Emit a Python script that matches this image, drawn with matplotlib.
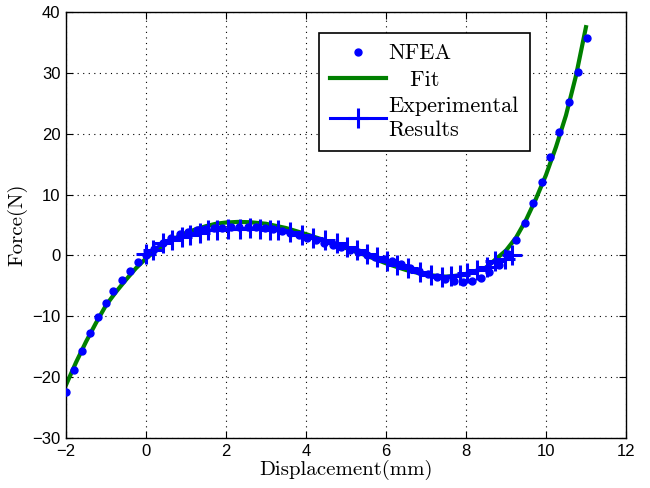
import matplotlib
matplotlib.use('Agg')
import matplotlib.pyplot as plt
import numpy as np

# NFEA simulation points
nfea_x = [-2.00, -1.80, -1.60, -1.40, -1.21, -1.01, -0.82, -0.61, -0.40, -0.20,
          0.00, 0.21, 0.42, 0.63, 0.85, 1.06, 1.27, 1.48, 1.70, 1.91,
          2.12, 2.33, 2.55, 2.76, 2.97, 3.18, 3.39, 3.60, 3.82, 4.03,
          4.24, 4.45, 4.67, 4.88, 5.09, 5.30, 5.52, 5.73, 5.95, 6.16,
          6.38, 6.60, 6.82, 7.05, 7.27, 7.48, 7.70, 7.93, 8.16, 8.37,
          8.58, 8.82, 9.05, 9.26, 9.47, 9.68, 9.90, 10.10, 10.33, 10.57,
          10.79, 11.02]
nfea_y = [-22.5, -18.9, -15.7, -12.7, -10.1, -7.8, -5.8, -4.0, -2.5, -1.1,
          0.0, 1.0, 2.0, 2.8, 3.5, 3.8, 4.1, 4.3, 4.45, 4.55,
          4.65, 4.7, 4.7, 4.6, 4.5, 4.3, 4.05, 3.7, 3.3, 2.9,
          2.5, 2.1, 1.7, 1.3, 0.9, 0.5, 0.0, -0.3, -0.6, -1.0,
          -1.4, -2.0, -2.5, -3.1, -3.5, -3.8, -4.2, -4.3, -4.2, -3.7,
          -2.7, -1.5, 0.3, 2.6, 5.4, 8.6, 12.0, 16.1, 20.3, 25.2,
          30.2, 35.8]

# fitted curve
fit_x = [-2.0, -1.75, -1.5, -1.25, -1.0, -0.75, -0.5, -0.25, 0.0, 0.25, 0.5, 0.75,
         1.0, 1.25, 1.5, 1.75, 2.0, 2.3, 2.6, 3.0, 3.5, 4.0, 4.5, 5.0, 5.5, 6.0,
         6.5, 7.0, 7.5, 8.0, 8.5, 9.0, 9.25, 9.5, 9.75, 10.0, 10.25, 10.5, 10.75, 11.0]
fit_y = [-21.3, -17.6, -14.2, -11.1, -8.2, -6.0, -4.0, -2.1, -0.5, 0.8, 2.0, 2.9,
         3.7, 4.3, 4.8, 5.2, 5.4, 5.5, 5.45, 5.2, 4.5, 3.5, 2.4, 1.2, 0.0, -1.3,
         -2.4, -3.2, -3.5, -3.2, -2.0, 0.8, 2.9, 5.8, 9.3, 13.2, 17.8, 23.0, 29.5, 37.5]

# experimental results
exp_x = [0.00, 0.18, 0.43, 0.64, 0.89, 1.10, 1.35, 1.56, 1.77, 2.06,
         2.35, 2.60, 2.85, 3.10, 3.31, 3.60, 3.89, 4.18, 4.48, 4.77,
         5.02, 5.27, 5.52, 5.77, 6.02, 6.27, 6.56, 6.85, 7.12, 7.39,
         7.62, 7.85, 8.03, 8.27, 8.52, 8.73, 8.97, 9.14]
exp_y = [0.3, 0.9, 2.0, 2.5, 3.1, 3.35, 3.6, 4.1, 4.2, 4.3,
         4.3, 4.45, 4.3, 4.25, 4.2, 3.9, 3.35, 2.9, 2.5, 2.0,
         1.4, 0.9, 0.3, -0.2, -1.0, -1.6, -2.1, -2.7, -3.3, -3.5,
         -3.4, -3.2, -2.9, -2.4, -1.9, -1.0, -0.6, 0.0]

serif = 'cmr10'
tickfont = 'Liberation Sans'

fig = plt.figure(figsize=(6.5, 4.88), dpi=100)
ax = fig.add_axes([0.1015, 0.1025, 0.8615, 0.873])

ax.plot(nfea_x, nfea_y, 'o', color='#0000ff', markersize=5, label='NFEA', zorder=3)
ax.plot(fit_x, fit_y, '-', color='#008000', linewidth=3, label='   Fit', zorder=2)
ax.plot(exp_x, exp_y, '-+', color='#0000ff', linewidth=2.2, markersize=14,
        markeredgewidth=2.2, label='Experimental\nResults', zorder=4)

ax.set_xlim(-2, 12)
ax.set_ylim(-30, 40)
ax.set_xticks(np.arange(-2, 13, 2))
ax.set_yticks(np.arange(-30, 41, 10))
ax.grid(True, linestyle=(0, (1, 4)), color='black', linewidth=0.8)
ax.tick_params(direction='in', top=True, right=True, length=5, width=0.8,
               labelsize=12, pad=4)
for lab in ax.get_xticklabels() + ax.get_yticklabels():
    lab.set_fontfamily(tickfont)
for sp in ax.spines.values():
    sp.set_linewidth(1.0)

ax.set_xlabel('Displacement(mm)', fontfamily=serif, fontsize=15, labelpad=1)
ax.set_ylabel('Force(N)', fontfamily=serif, fontsize=15, labelpad=3)

leg = ax.legend(loc='upper left', bbox_to_anchor=(0.452, 0.951),
                prop={'family': serif, 'size': 16}, frameon=True, fancybox=False,
                edgecolor='black', handlelength=2.5, borderpad=0.5,
                labelspacing=0.3, handletextpad=0.12, borderaxespad=0)
leg.get_frame().set_linewidth(1.2)
leg.get_frame().set_alpha(1)
for t in leg.get_texts():
    t.set_linespacing(1.3)

fig.savefig('out.png', dpi=100)
